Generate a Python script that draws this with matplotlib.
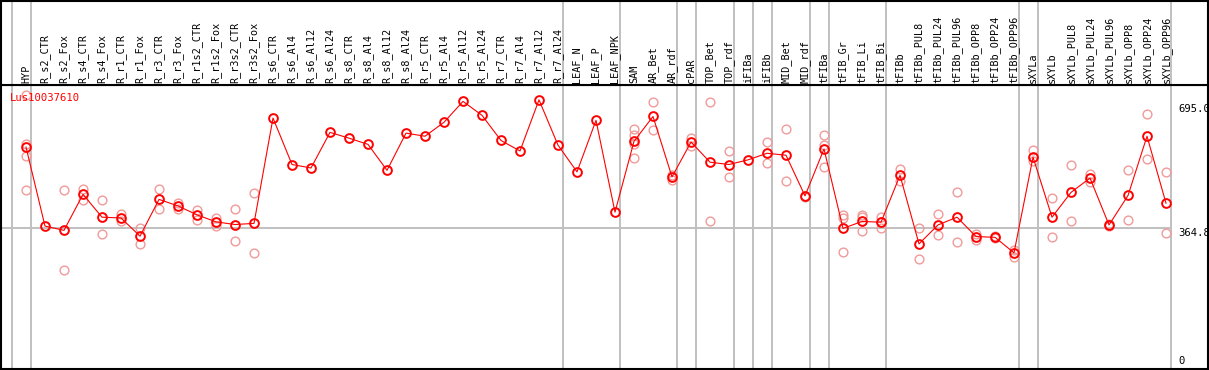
import matplotlib
matplotlib.use('Agg')
import matplotlib.pyplot as plt
from matplotlib.transforms import offset_copy

# sample names (x axis)
cats = ['HYP', 'R_s2_CTR', 'R_s2_Fox', 'R_s4_CTR', 'R_s4_Fox', 'R_r1_CTR', 'R_r1_Fox',
        'R_r3_CTR', 'R_r3_Fox', 'R_r1s2_CTR', 'R_r1s2_Fox', 'R_r3s2_CTR', 'R_r3s2_Fox',
        'R_s6_CTR', 'R_s6_Al4', 'R_s6_Al12', 'R_s6_Al24', 'R_s8_CTR', 'R_s8_Al4',
        'R_s8_Al12', 'R_s8_Al24', 'R_r5_CTR', 'R_r5_Al4', 'R_r5_Al12', 'R_r5_Al24',
        'R_r7_CTR', 'R_r7_Al4', 'R_r7_Al12', 'R_r7_Al24', 'LEAF_N', 'LEAF_P', 'LEAF_NPK',
        'SAM', 'AR_Bet', 'AR_rdf', 'cPAR', 'TOP_Bet', 'TOP_rdf', 'iFIBa', 'iFIBb',
        'MID_Bet', 'MID_rdf', 'tFIBa', 'tFIB_Gr', 'tFIB_Li', 'tFIB_Bi', 'tFIBb',
        'tFIBb_PUL8', 'tFIBb_PUL24', 'tFIBb_PUL96', 'tFIBb_OPP8', 'tFIBb_OPP24',
        'tFIBb_OPP96', 'sXYLa', 'sXYLb', 'sXYLb_PUL8', 'sXYLb_PUL24', 'sXYLb_PUL96',
        'sXYLb_OPP8', 'sXYLb_OPP24', 'sXYLb_OPP96']

# mean expression
means = [573, 369, 358, 451, 392, 390, 343, 438, 421, 398, 380, 373, 376,
         648, 528, 519, 611, 596, 580, 513, 609, 601, 637, 691, 655, 590, 563, 695, 578,
         509, 642, 405,
         588, 652, 496, 586, 534, 528, 540, 557, 552, 447, 568,
         363, 381, 379, 500, 323, 372, 392, 342, 340, 300,
         547, 392, 456, 493, 372, 448, 601, 428]

# replicates
reps = [[707, 582, 549, 462], [], [462, 256], [466, 436], [436, 349], [399, 381],
        [364, 322], [465, 413], [429, 412], [411, 384], [390, 368], [413, 330], [454, 300],
        [], [], [], [], [], [], [], [], [], [], [], [], [], [], [], [],
        [], [], [],
        [619, 605, 582, 544], [689, 616], [500, 489], [596, 575], [689, 381], [563, 496],
        [], [585, 531], [619, 485], [447, 445], [604, 578, 521],
        [397, 390, 302], [397, 392, 357], [392, 380, 364], [516, 485], [364, 283],
        [400, 346], [456, 328], [349, 332], [343, 337], [308, 288],
        [565, 538], [441, 340], [528, 381], [503, 482], [374, 370], [513, 384],
        [658, 541], [509, 351]]

# index of last sample in each group
group_ends = [-1, 0, 28, 31, 34, 35, 37, 38, 39, 41, 42, 45, 52, 53, 60]

gene = 'Lus10037610'
ref_value = 364.8

W, H = 1209, 370
head = 85
mono = 'DejaVu Sans Mono'
grey = '#c0c0c0'

fig = plt.figure(figsize=(W / 100, H / 100), dpi=100)
ax = fig.add_axes([1 / W, 1 / H, (W - 2) / W, (H - 1 - head) / H])
hax = fig.add_axes([1 / W, (H - head) / H, (W - 2) / W, (head - 1) / H], sharex=ax)

x0, x1 = -1.316, 62.21
ax.set_xlim(x0, x1)
ax.set_ylim(0, 733.3)
hax.set_ylim(0, 1)

for a in (ax, hax):
    a.set_xticks([])
    a.set_yticks([])
    for s in a.spines.values():
        s.set_linewidth(1.5)
        s.set_color('black')

# group separators
for g in group_ends:
    ax.axvline(g + 0.26, color=grey, lw=1.4, zorder=0)
    hax.axvline(g + 0.26, color=grey, lw=1.4, zorder=0)
ax.plot([x0, group_ends[-1] + 0.26], [ref_value, ref_value], color=grey, lw=1.4, zorder=0)

# replicates
for i, r in enumerate(reps):
    ax.plot([i] * len(r), r, 'o', ms=6.3, mfc='none', mec='#f09a9a', mew=1.0, zorder=2)

ax.plot(range(len(means)), means, '-', color='red', lw=0.8, zorder=3)
ax.plot(range(len(means)), means, 'o', ms=6.3, mfc='none', mec='red', mew=1.4, zorder=4)

# header labels
for i, c in enumerate(cats):
    hax.text(i, 2 / 84, c, rotation=90, ha='center', va='bottom',
             fontsize=7.3, family=mono)

ax.text(-0.84, 1 - 8 / 284, gene, transform=ax.get_xaxis_transform(),
        color='red', fontsize=7.6, family=mono, va='top', ha='left')

# scale labels on the right
xl = 60.63
ax.text(xl, max(means), f'{max(means):.1f}', fontsize=7.6, family=mono, ha='left', va='top',
        transform=offset_copy(ax.transData, fig=fig, x=0, y=-4, units='dots'))
ax.text(xl, ref_value, f'{ref_value:.1f}', fontsize=7.6, family=mono, ha='left', va='top')
ax.text(xl, 0, '0', fontsize=7.6, family=mono, ha='left', va='bottom',
        transform=offset_copy(ax.transData, fig=fig, x=0, y=3, units='dots'))

fig.savefig('out.png', dpi=100)
